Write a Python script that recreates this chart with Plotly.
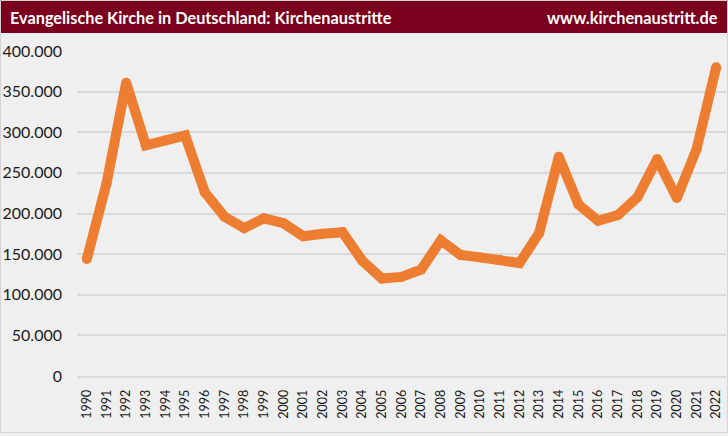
import plotly.graph_objects as go

years = [str(y) for y in range(1990, 2023)]
austritte = [144000, 237000, 361000, 284000, 290000, 296000, 226000, 196000, 182000, 194000,
             188000, 172000, 175000, 177000, 142000, 120000, 122000, 131000, 167000, 149000,
             146000, 143000, 139000, 176000, 270000, 211000, 191000, 198000, 220000, 267000,
             219000, 279000, 380000]
title_left = "Evangelische Kirche in Deutschland: Kirchenaustritte"
title_right = "www.kirchenaustritt.de"

W, H = 728, 436
ml, mr, mt, mb = 77, 2, 51, 60
pw, ph = W - ml - mr, H - mt - mb

def px_x(p):
    return (p - ml) / pw

def px_y(p):
    return 1 - (p - mt) / ph

fig = go.Figure()
fig.add_trace(go.Scatter(
    x=years, y=austritte, mode="lines+markers",
    line=dict(color="#ED7D31", width=10),
    marker=dict(color="#ED7D31", size=10, line=dict(width=0)),
    cliponaxis=False, hoverinfo="x+y",
))

bg = "#EFEFEF"
fig.update_layout(
    width=W, height=H,
    margin=dict(l=ml, r=mr, t=mt, b=mb, autoexpand=False),
    paper_bgcolor=bg, plot_bgcolor=bg,
    showlegend=False,
    separators=",.",
    font=dict(family="Lato, Open Sans, sans-serif", color="#1a1a1a"),
    xaxis=dict(
        type="category", range=[-0.5, len(years) - 0.5], tickangle=-90,
        showgrid=False, zeroline=False, automargin=False,
        showline=True, linecolor="#D9D9D9", linewidth=1.5,
        ticks="", tickfont=dict(size=12.5, color="#1a1a1a"),
        ticklabelstandoff=7,
    ),
    yaxis=dict(
        range=[0, 400000], tickvals=list(range(0, 400001, 50000)),
        tickformat=",d", showgrid=True, gridcolor="#D9D9D9", gridwidth=1.5,
        zeroline=False, ticks="", automargin=False,
        tickfont=dict(size=16, color="#1a1a1a"),
        ticklabelstandoff=14,
    ),
    shapes=[
        dict(type="rect", xref="paper", yref="paper",
             x0=px_x(0), x1=px_x(W), y0=px_y(33), y1=px_y(0),
             fillcolor="#7A001E", line=dict(width=0), layer="above"),
        dict(type="rect", xref="paper", yref="paper",
             x0=px_x(0.5), x1=px_x(W - 0.5), y0=px_y(H - 3.5), y1=px_y(0.5),
             fillcolor="rgba(0,0,0,0)", line=dict(width=1, color="#D4D4D4"), layer="above"),
    ],
    annotations=[
        dict(text=title_left, xref="paper", yref="paper", x=px_x(8), y=px_y(17),
             xanchor="left", yanchor="middle", showarrow=False,
             font=dict(size=16.3, color="white", family="Lato, sans-serif", weight="bold")),
        dict(text=title_right, xref="paper", yref="paper", x=px_x(720), y=px_y(17),
             xanchor="right", yanchor="middle", showarrow=False,
             font=dict(size=16.3, color="white", family="Lato, sans-serif", weight="bold")),
    ],
)

fig.write_html(
    "out.html",
    config={"displayModeBar": False},
    post_script="document.body.style.margin='0';document.body.style.overflow='hidden';",
)
